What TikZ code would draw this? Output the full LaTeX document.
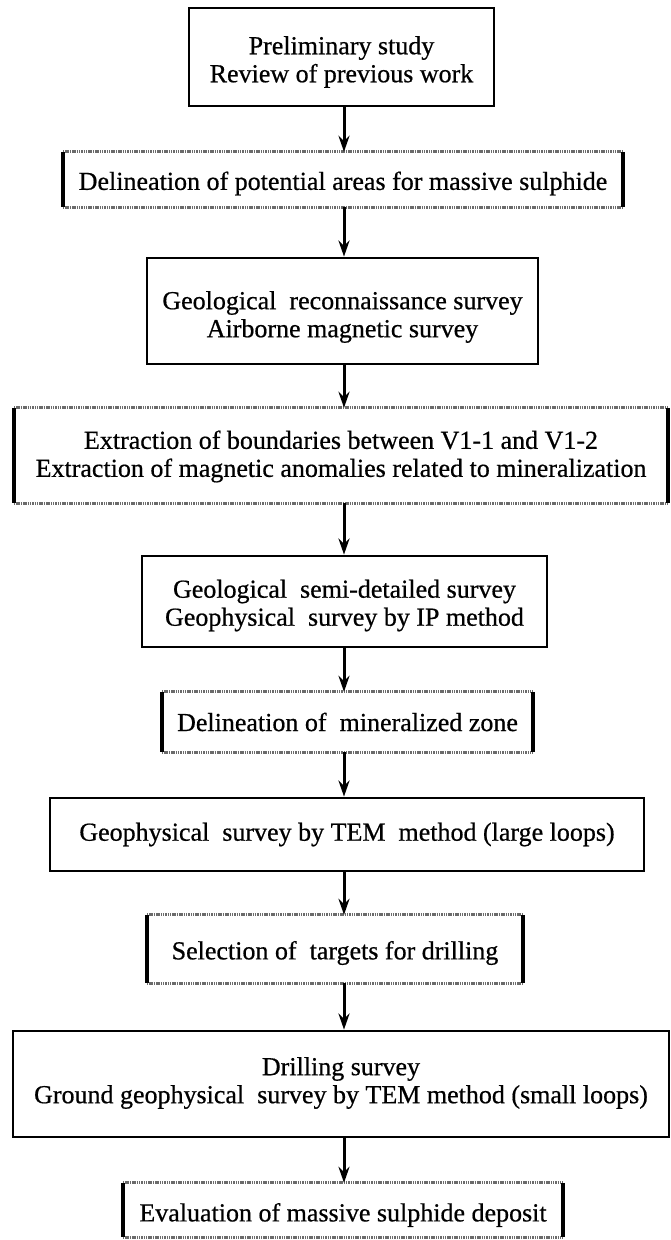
\documentclass[tikz,border=0pt]{standalone}
\usepackage{fontspec}
\setmainfont{Liberation Serif}[FakeBold=0.6]
\usetikzlibrary{arrows.meta}
\tikzset{
  frame/.style={inner sep=0pt},
  solidbox/.style={frame, draw=black, line width=2.8pt},
  plainbox/.style={frame},
  txt/.style={inner sep=0pt, align=center, font=\fontsize{26}{28}\selectfont},
  greyedge/.style={draw=black!58, line width=3pt, dash pattern=on 1.5pt off 0.8pt},
  darkedge/.style={draw=black, line width=4pt},
  arr/.style={draw=black, line width=3pt, -{Stealth[length=16pt,width=11pt]}}
}
\newcommand{\shadeframe}[1]{%
  \draw[greyedge] (#1.north west) -- (#1.north east);
  \draw[greyedge] (#1.south west) -- (#1.south east);
  \draw[darkedge] (#1.north west) -- (#1.south west);
  \draw[darkedge] (#1.north east) -- (#1.south east);}
\begin{document}
\begin{tikzpicture}[x=1pt,y=-1pt]
\useasboundingbox (0,0) rectangle (670,1240);
\coordinate (axis) at (344,0);
\node[solidbox, minimum width=305pt, minimum height=98pt] (b1) at (341.5,57) {};
\node[txt] (t1) at ([yshift=-5pt]b1.center) {Preliminary study\\Review of previous work};
\node[plainbox, minimum width=560pt, minimum height=55pt] (b2) at (343,179.5) {};
\node[txt] (t2) at ([yshift=-4pt]b2.center) {Delineation of potential areas for massive sulphide};
\node[solidbox, minimum width=391pt, minimum height=106pt] (b3) at (342.5,311) {};
\node[txt] (t3) at ([yshift=-6pt]b3.center) {Geological\ \ reconnaissance survey\\Airborne magnetic survey};
\node[plainbox, minimum width=654pt, minimum height=95pt] (b4) at (341,455.5) {};
\node[txt] (t4) at ([yshift=-1pt]b4.center) {Extraction of boundaries between V1-1 and V1-2\\Extraction of magnetic anomalies related to mineralization};
\node[solidbox, minimum width=405pt, minimum height=91pt] (b5) at (344.5,601.5) {};
\node[txt] (t5) at ([yshift=-4pt]b5.center) {Geological\ \ semi-detailed survey\\Geophysical\ \ survey by IP method};
\node[plainbox, minimum width=371pt, minimum height=60pt] (b6) at (347.5,722) {};
\node[txt] (t6) at (b6.center) {Delineation of\ \ mineralized zone};
\node[solidbox, minimum width=594pt, minimum height=73pt] (b7) at (347,834.5) {};
\node[txt] (t7) at (b7.center) {Geophysical\ \ survey by TEM\ \ method (large loops)};
\node[plainbox, minimum width=376pt, minimum height=68pt] (b8) at (335,949) {};
\node[txt] (t8) at ([yshift=-4pt]b8.center) {Selection of\ \ targets for drilling};
\node[solidbox, minimum width=656pt, minimum height=106pt] (b9) at (341,1084) {};
\node[txt] (t9) at ([yshift=1pt]b9.center) {Drilling survey\\Ground geophysical\ \ survey by TEM method (small loops)};
\node[plainbox, minimum width=440pt, minimum height=54pt] (b10) at (343,1210) {};
\node[txt] (t10) at ([yshift=-5pt]b10.center) {Evaluation of massive sulphide deposit};
\shadeframe{b2}
\shadeframe{b4}
\shadeframe{b6}
\shadeframe{b8}
\shadeframe{b10}
\draw[arr] (b1.south -| axis) -- (b2.north -| axis);
\draw[arr] (b2.south -| axis) -- (b3.north -| axis);
\draw[arr] (b3.south -| axis) -- (b4.north -| axis);
\draw[arr] (b4.south -| axis) -- (b5.north -| axis);
\draw[arr] (b5.south -| axis) -- (b6.north -| axis);
\draw[arr] (b6.south -| axis) -- (b7.north -| axis);
\draw[arr] (b7.south -| axis) -- (b8.north -| axis);
\draw[arr] (b8.south -| axis) -- (b9.north -| axis);
\draw[arr] (b9.south -| axis) -- (b10.north -| axis);
\end{tikzpicture}
\end{document}
